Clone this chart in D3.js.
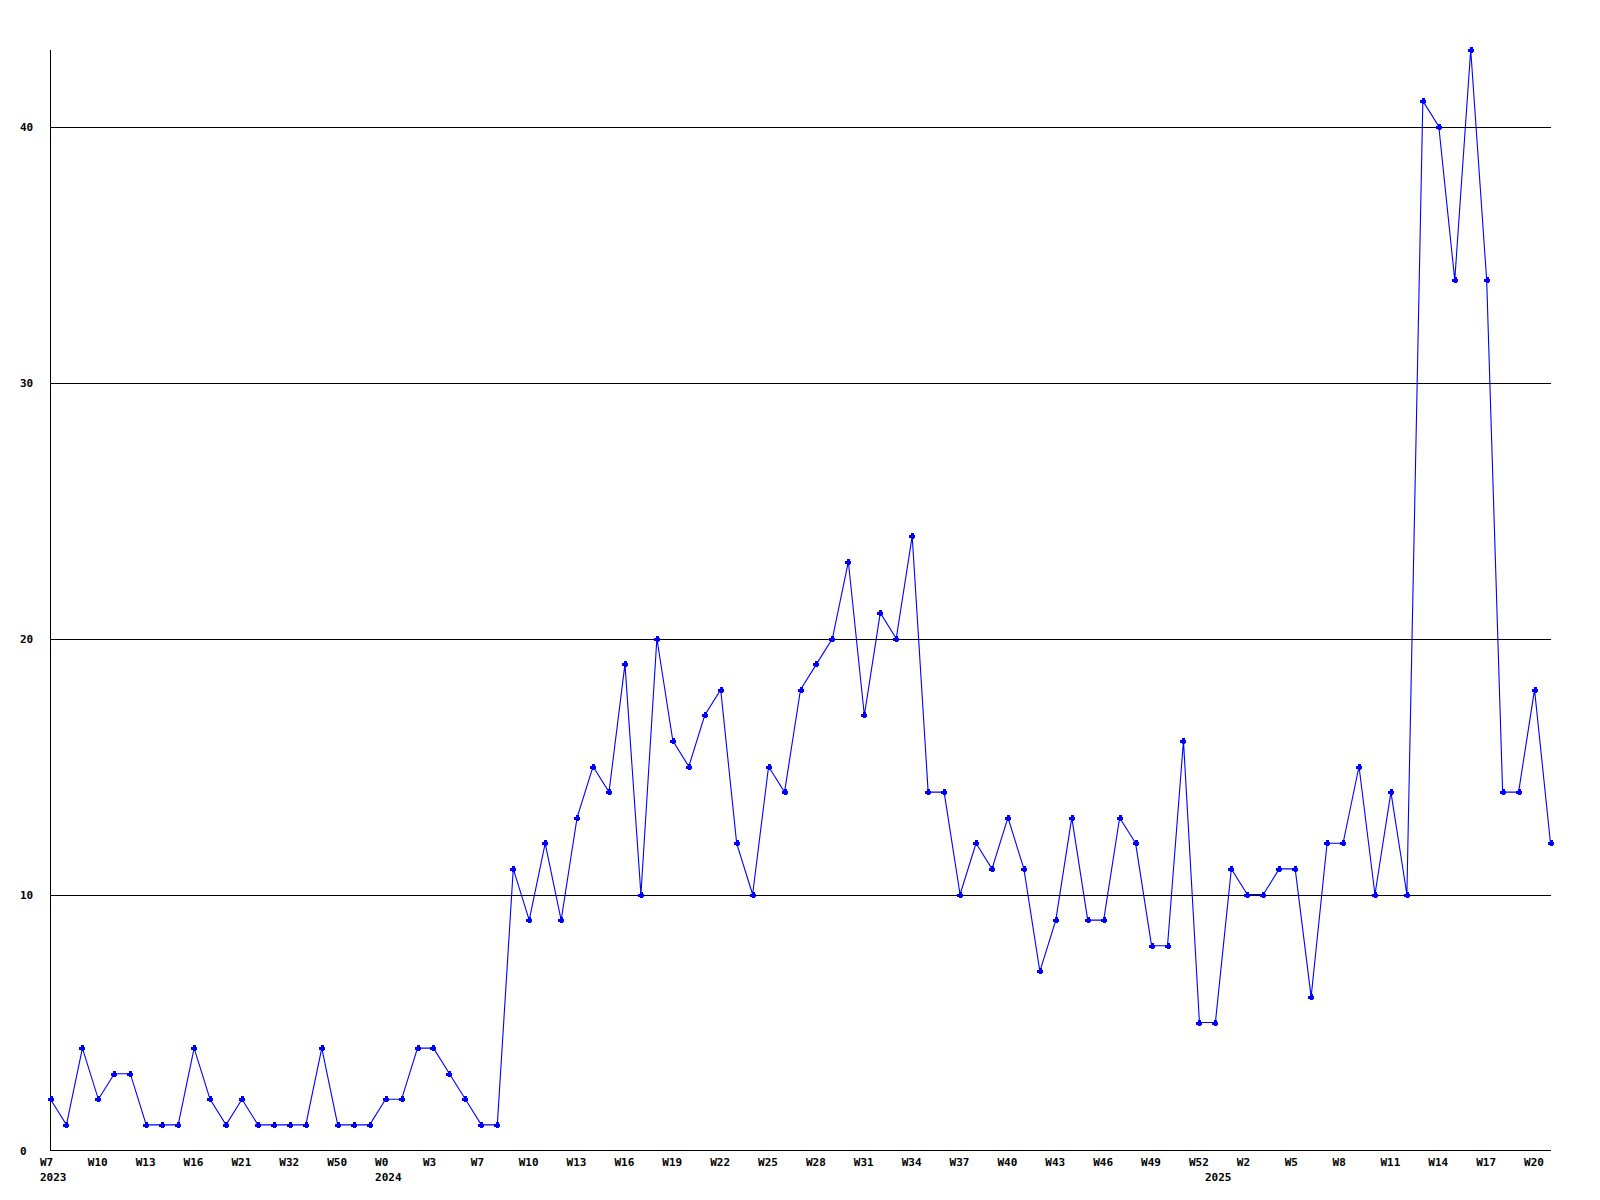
<!DOCTYPE html>
<html>
<head>
<meta charset="utf-8">
<script src="https://cdn.jsdelivr.net/npm/d3@7"></script>
<style>
  html, body { margin: 0; padding: 0; background: #ffffff; }
  svg { display: block; }
  text { font-family: "DejaVu Sans Mono", "Liberation Mono", monospace; font-weight: bold; font-size: 11px; fill: #000; }
</style>
</head>
<body>
<svg id="chart" width="1600" height="1200"></svg>
<script>
// Weekly values, one per data point (x is the point index)
const values = [
  2, 1, 4, 2, 3, 3, 1, 1, 1, 4,
  2, 1, 2, 1, 1, 1, 1, 4, 1, 1,
  1, 2, 2, 4, 4, 3, 2, 1, 1, 11,
  9, 12, 9, 13, 15, 14, 19, 10, 20, 16,
  15, 17, 18, 12, 10, 15, 14, 18, 19, 20,
  23, 17, 21, 20, 24, 14, 14, 10, 12, 11,
  13, 11, 7, 9, 13, 9, 9, 13, 12, 8,
  8, 16, 5, 5, 11, 10, 10, 11, 11, 6,
  12, 12, 15, 10, 14, 10, 41, 40, 34, 43,
  34, 14, 14, 18, 12
];

// Tick labels, shown on every 3rd point starting at the first
const tickLabels = [
  "W7", "W10", "W13", "W16", "W21", "W32", "W50",
  "W0", "W3", "W7", "W10", "W13", "W16", "W19", "W22", "W25", "W28", "W31",
  "W34", "W37", "W40", "W43", "W46", "W49", "W52",
  "W2", "W5", "W8", "W11", "W14", "W17", "W20"
];
const tickEvery = 3;

// Year labels and the point index where each year starts
const yearLabels = ["2023", "2024", "2025"];
const yearStartIndex = [0, 21, 73];

const yTicks = [0, 10, 20, 30, 40];
const yMax = 43;

const svg = d3.select("#chart");
const plotLeft = 50.5, plotRight = 1550.5, plotTop = 49.7, plotBottom = 1150.5;

const x = d3.scalePoint()
  .domain(d3.range(values.length))
  .range([plotLeft, plotRight]);

const y = d3.scaleLinear()
  .domain([0, yMax])
  .range([plotBottom, plotTop]);

// Grid lines
svg.append("g").selectAll("line")
  .data(yTicks.filter(d => d > 0))
  .join("line")
  .attr("x1", plotLeft).attr("x2", plotRight)
  .attr("y1", d => Math.round(y(d)) + 0.5)
  .attr("y2", d => Math.round(y(d)) + 0.5)
  .attr("stroke", "#000").attr("stroke-width", 1)
  .attr("shape-rendering", "crispEdges");

// Axes lines
svg.append("line")
  .attr("x1", plotLeft).attr("x2", plotLeft)
  .attr("y1", plotTop).attr("y2", plotBottom)
  .attr("stroke", "#000").attr("shape-rendering", "crispEdges");
svg.append("line")
  .attr("x1", plotLeft).attr("x2", plotRight)
  .attr("y1", plotBottom).attr("y2", plotBottom)
  .attr("stroke", "#000").attr("shape-rendering", "crispEdges");

// Y tick labels
svg.append("g").selectAll("text")
  .data(yTicks)
  .join("text")
  .attr("x", 20)
  .attr("y", d => Math.round(y(d)) + 0.5)
  .attr("dy", "0.35em")
  .text(d => d);

// X tick labels
svg.append("g").selectAll("text")
  .data(tickLabels)
  .join("text")
  .attr("x", (d, i) => x(i * tickEvery) - 10.5)
  .attr("y", 1162)
  .attr("dy", "0.35em")
  .text(d => d);

// Year labels
svg.append("g").selectAll("text")
  .data(yearLabels)
  .join("text")
  .attr("x", (d, i) => x(yearStartIndex[i]) - 10.5)
  .attr("y", 1177)
  .attr("dy", "0.35em")
  .text(d => d);

// Line
const line = d3.line()
  .x((d, i) => x(i))
  .y(d => y(d));

svg.append("path")
  .datum(values)
  .attr("d", line)
  .attr("fill", "none")
  .attr("stroke", "#0000ff")
  .attr("stroke-width", 1.1);

// Markers (small plus shapes)
svg.append("g").selectAll("path")
  .data(values)
  .join("path")
  .attr("transform", (d, i) => `translate(${Math.round(x(i))},${Math.round(y(d))})`)
  .attr("d", "M-1.5,-3H1.5V-1.5H3V1.5H1.5V3H-1.5V1.5H-3V-1.5H-1.5Z")
  .attr("fill", "#0000ff")
  .attr("shape-rendering", "crispEdges");
</script>
</body>
</html>
